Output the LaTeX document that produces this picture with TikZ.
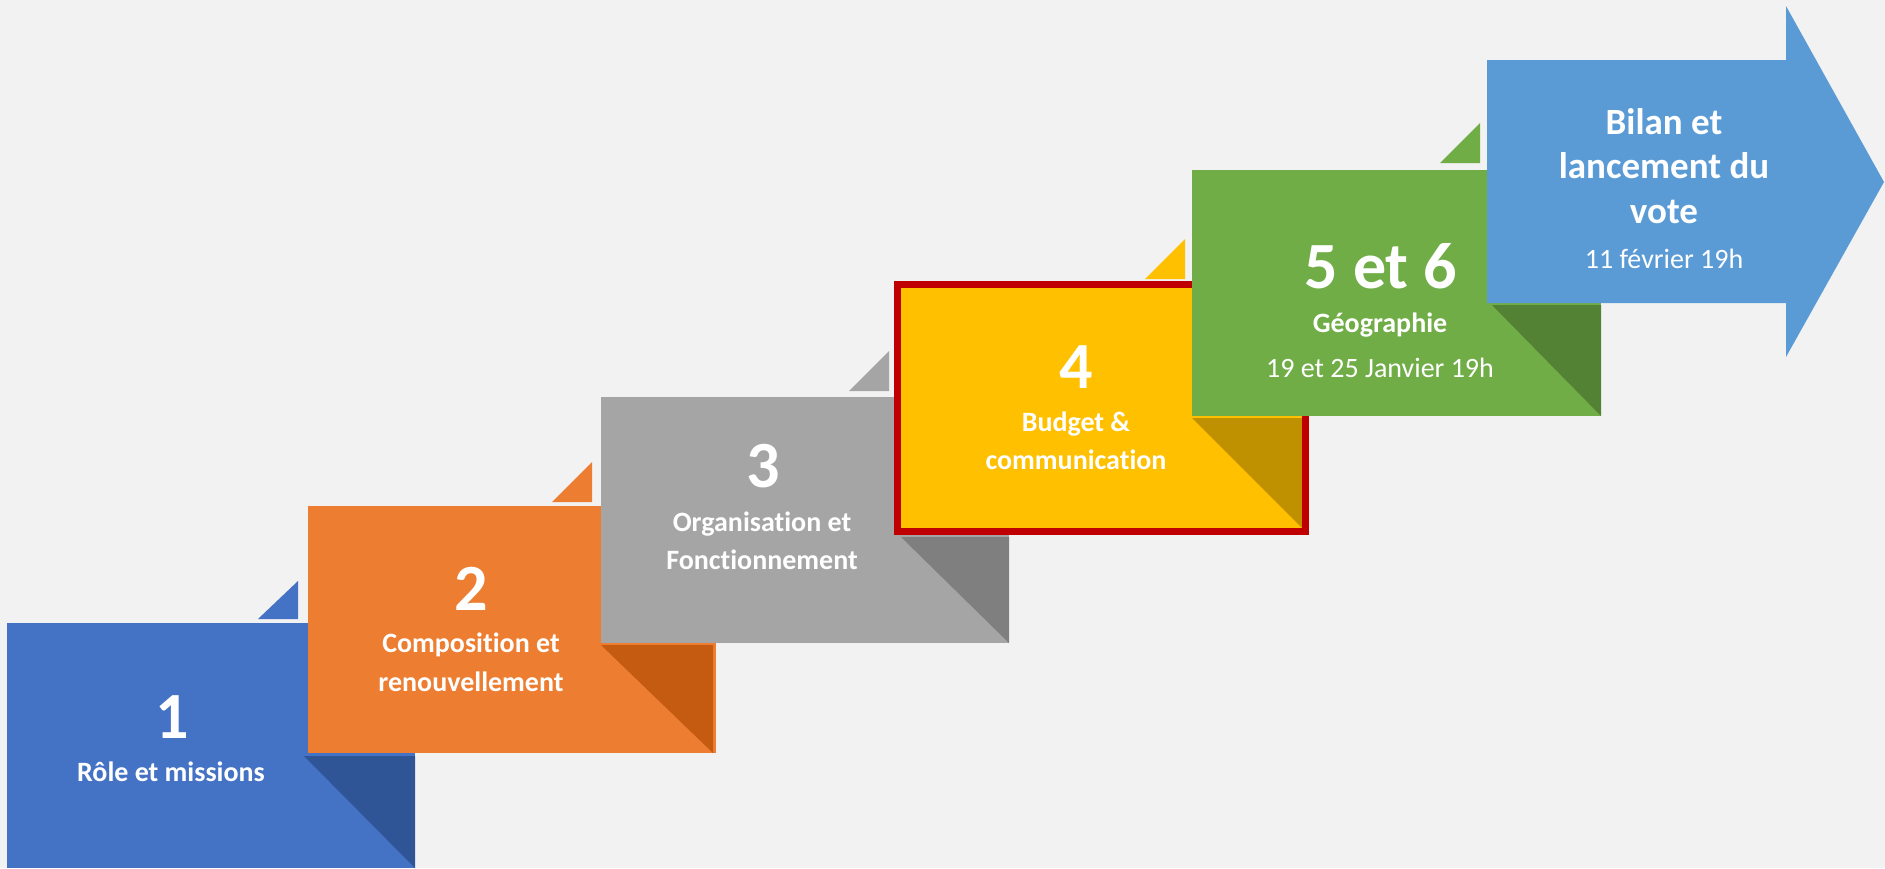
\documentclass[tikz,border=0pt]{standalone}
\usepackage{fontspec}
\setmainfont{Carlito}[Ligatures={NoCommon}]
\definecolor{bg}{HTML}{F2F2F2}
\definecolor{cblue}{HTML}{4472C4}
\definecolor{dblue}{HTML}{2F5597}
\definecolor{corange}{HTML}{ED7D31}
\definecolor{dorange}{HTML}{C55A11}
\definecolor{cgray}{HTML}{A5A5A5}
\definecolor{dgray}{HTML}{7F7F7F}
\definecolor{cyellow}{HTML}{FFC000}
\definecolor{dyellow}{HTML}{BF9000}
\definecolor{cred}{HTML}{C00000}
\definecolor{cgreen}{HTML}{70AD47}
\definecolor{dgreen}{HTML}{548235}
\definecolor{carrow}{HTML}{5B9BD5}
\begin{document}
\begin{tikzpicture}[x=0.5pt,y=-0.5pt,
  txt/.style={text=white, inner sep=0pt, anchor=base},
  num/.style={txt, font=\bfseries\fontsize{33}{40}\selectfont},
  lbl/.style={txt, font=\bfseries\fontsize{14}{17}\selectfont},
  sub/.style={txt, font=\fontsize{14}{17}\selectfont},
  ttl/.style={txt, font=\bfseries\fontsize{18.5}{22}\selectfont}]
\useasboundingbox (0,0) rectangle (1885,868);
\fill[bg] (0,0) rectangle (1885,868);

% step 1
\fill[cblue] (258,619) -- (298,619) -- (298,581) -- cycle;
\fill[cblue] (7,623) rectangle (415,868);
\fill[dblue] (304,756) -- (415,756) -- (415,868) -- cycle;
\node[num] (n1) at (172,738) {1};
\node[lbl] (l1) at (171,781) {Rôle et missions};

% step 2
\fill[corange] (552,502) -- (592,502) -- (592,462) -- cycle;
\fill[corange] (308,506) rectangle (716,753);
\fill[dorange] (601,645) -- (713,645) -- (713,753) -- cycle;
\node[num] (n2) at (471,610) {2};
\node[lbl] (l2a) at (471,652) {Composition et};
\node[lbl] (l2b) at (471,691) {renouvellement};

% step 3
\fill[cgray] (849,391) -- (889,391) -- (889,351) -- cycle;
\fill[cgray] (601,397) rectangle (1009,643);
\fill[dgray] (901,537) -- (1009,537) -- (1009,643) -- cycle;
\node[num] (n3) at (763,487) {3};
\node[lbl] (l3a) at (762,531) {Organisation et};
\node[lbl] (l3b) at (762,569) {Fonctionnement};

% step 4
\fill[cyellow] (1145,279) -- (1185,279) -- (1185,239) -- cycle;
\fill[cyellow] (894,281) rectangle (1309,535);
\fill[dyellow] (1192,418) -- (1302,418) -- (1302,528) -- cycle;
\draw[cred, line width=3.5pt] (897.5,284.5) rectangle (1305.5,531.5);
\node[num] (n4) at (1076,388) {4};
\node[lbl] (l4a) at (1076,431) {Budget \&};
\node[lbl] (l4b) at (1076,469) {communication};

% step 5
\fill[cgreen] (1440,163) -- (1480,163) -- (1480,123) -- cycle;
\fill[cgreen] (1192,170) rectangle (1601,416);
\fill[dgreen] (1492,305) -- (1601,305) -- (1601,416) -- cycle;
\node[num] (n5) at (1381,288) {5 et 6};
\node[lbl] (l5a) at (1380,332) {Géographie};
\node[sub] (l5b) at (1380,377) {19 et 25 Janvier 19h};

% arrow
\fill[carrow] (1487,60) -- (1786,60) -- (1786,6) -- (1884,182) -- (1786,357) -- (1786,303) -- (1487,303) -- cycle;
\node[ttl] (a1) at (1664,134) {Bilan et};
\node[ttl] (a2) at (1664,178) {lancement du};
\node[ttl] (a3) at (1664,223) {vote};
\node[sub] (a4) at (1664,268) {11 février 19h};
\end{tikzpicture}
\end{document}
